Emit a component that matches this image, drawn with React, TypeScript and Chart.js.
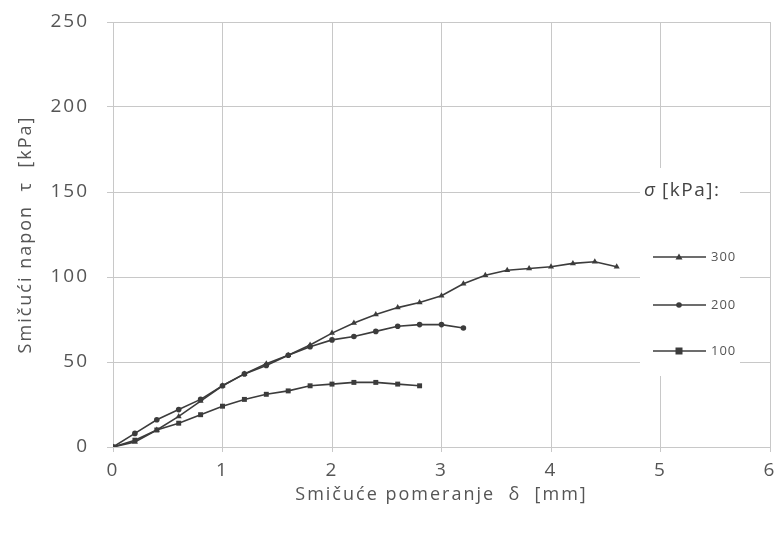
import React, { useEffect, useRef } from "react";
import { Chart, registerables } from "chart.js";

Chart.register(...registerables);

const x300 = [0, 0.2, 0.4, 0.6, 0.8, 1.0, 1.2, 1.4, 1.6, 1.8, 2.0, 2.2, 2.4, 2.6, 2.8, 3.0, 3.2, 3.4, 3.6, 3.8, 4.0, 4.2, 4.4, 4.6];
const y300 = [0, 3, 10, 18, 27, 36, 43, 49, 54, 60, 67, 73, 78, 82, 85, 89, 96, 101, 104, 105, 106, 108, 109, 106];
const x200 = [0, 0.2, 0.4, 0.6, 0.8, 1.0, 1.2, 1.4, 1.6, 1.8, 2.0, 2.2, 2.4, 2.6, 2.8, 3.0, 3.2];
const y200 = [0, 8, 16, 22, 28, 36, 43, 48, 54, 59, 63, 65, 68, 71, 72, 72, 70];
const x100 = [0, 0.2, 0.4, 0.6, 0.8, 1.0, 1.2, 1.4, 1.6, 1.8, 2.0, 2.2, 2.4, 2.6, 2.8];
const y100 = [0, 4, 10, 14, 19, 24, 28, 31, 33, 36, 37, 38, 38, 37, 36];
const seriesLabels = ["300", "200", "100"];
const xTicks = [0, 1, 2, 3, 4, 5, 6];
const yTicks = [0, 50, 100, 150, 200, 250];

const INK = "#3c3c3c";
const TEXT = "#555";
const FONT = "'Open Sans', 'Liberation Sans', sans-serif";

function pts(xs: number[], ys: number[]) {
  return xs.map((x, i) => ({ x, y: ys[i] }));
}

function drawMarker(ctx: CanvasRenderingContext2D, style: string, x: number, y: number, r: number) {
  ctx.beginPath();
  if (style === "triangle") {
    ctx.moveTo(x, y - r);
    ctx.lineTo(x + r, y + r * 0.7);
    ctx.lineTo(x - r, y + r * 0.7);
    ctx.closePath();
  } else if (style === "rect") {
    ctx.rect(x - r, y - r, 2 * r, 2 * r);
  } else {
    ctx.arc(x, y, r, 0, Math.PI * 2);
  }
  ctx.fill();
}

const spacingPlugin = {
  id: "wideText",
  beforeUpdate(chart: any) {
    chart.ctx.letterSpacing = "2px";
  },
  beforeDraw(chart: any) {
    chart.ctx.letterSpacing = "2px";
  },
};

const legendPlugin = {
  id: "customLegend",
  afterDraw(chart: any) {
    const ctx = chart.ctx as any;
    ctx.save();
    ctx.fillStyle = "#ffffff";
    ctx.fillRect(640, 168, 100, 208);
    ctx.fillStyle = "#444";
    ctx.textBaseline = "middle";
    ctx.textAlign = "left";
    ctx.letterSpacing = "1.5px";
    ctx.font = `italic 19px ${FONT}`;
    ctx.fillText("σ", 644, 191);
    ctx.font = `19px ${FONT}`;
    ctx.fillText("[kPa]:", 662, 191);
    const ys = [257, 305, 351];
    chart.data.datasets.forEach((ds: any, i: number) => {
      const y = ys[i];
      ctx.strokeStyle = INK;
      ctx.lineWidth = 1.6;
      ctx.beginPath();
      ctx.moveTo(653, y);
      ctx.lineTo(706, y);
      ctx.stroke();
      ctx.fillStyle = INK;
      drawMarker(ctx, ds.pointStyle, 679, y, ds.pointRadius);
      ctx.fillStyle = TEXT;
      ctx.letterSpacing = "1px";
      ctx.font = `13px ${FONT}`;
      ctx.fillText(seriesLabels[i], 711, y);
    });
    ctx.restore();
  },
};

export default function App() {
  const ref = useRef<HTMLCanvasElement>(null);
  useEffect(() => {
    document.body.style.margin = "0";
    const canvas = ref.current!;
    const chart = new Chart(canvas, {
      type: "scatter",
      data: {
        datasets: [
          { label: seriesLabels[0], data: pts(x300, y300), showLine: true, borderColor: INK, backgroundColor: INK, borderWidth: 1.6, pointStyle: "triangle", pointRadius: 3.5, pointBorderWidth: 0 },
          { label: seriesLabels[1], data: pts(x200, y200), showLine: true, borderColor: INK, backgroundColor: INK, borderWidth: 1.6, pointStyle: "circle", pointRadius: 2.8, pointBorderWidth: 0 },
          { label: seriesLabels[2], data: pts(x100, y100), showLine: true, borderColor: INK, backgroundColor: INK, borderWidth: 1.6, pointStyle: "rect", pointRadius: 3.5, pointBorderWidth: 0 },
        ] as any,
      },
      options: {
        animation: false,
        responsive: false,
        layout: { padding: { top: 22, right: 14, left: 0, bottom: 0 } },
        plugins: { legend: { display: false }, tooltip: { enabled: false } },
        scales: {
          x: {
            type: "linear",
            min: 0,
            max: 6,
            afterBuildTicks: (s: any) => { s.ticks = xTicks.map((v) => ({ value: v })); },
            afterFit: (s: any) => { s.height = 87; },
            grid: { color: "#c8c8c8", lineWidth: 1, tickLength: 5 },
            border: { color: "#c8c8c8" },
            ticks: { color: TEXT, font: { family: FONT, size: 19 }, padding: 7 },
            title: { display: true, text: "Smičuće pomeranje  δ  [mm]", color: TEXT, font: { family: FONT, size: 18 }, padding: { top: 4, bottom: 28 } },
          },
          y: {
            type: "linear",
            min: 0,
            max: 250,
            afterBuildTicks: (s: any) => { s.ticks = yTicks.map((v) => ({ value: v })); },
            afterFit: (s: any) => { s.width = 113; s.paddingTop = 0; s.paddingBottom = 0; },
            grid: { color: "#c8c8c8", lineWidth: 1, tickLength: 6 },
            border: { color: "#c8c8c8" },
            ticks: { color: TEXT, font: { family: FONT, size: 19 }, padding: 18 },
            title: { display: true, text: "Smičući napon  τ  [kPa]", color: TEXT, font: { family: FONT, size: 18 }, padding: { top: 15, bottom: 0 } },
          },
        },
      },
      plugins: [spacingPlugin, legendPlugin],
    } as any);
    return () => chart.destroy();
  }, []);
  return <canvas ref={ref} width={784} height={534} style={{ display: "block" }} />;
}
